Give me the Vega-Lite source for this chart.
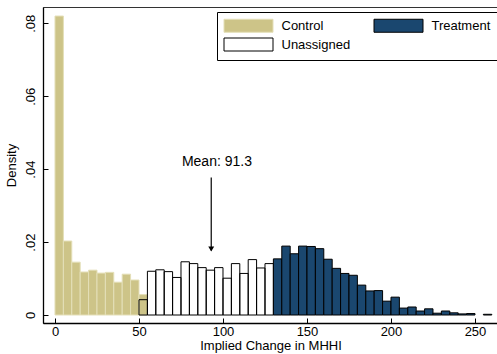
{
  "$schema": "https://vega.github.io/schema/vega-lite/v6.json",
  "width": 455,
  "height": 316,
  "autosize": {"type": "none"},
  "padding": {"left": 43, "top": 7, "right": 0, "bottom": 31},
  "background": "white",
  "config": {
    "font": "Liberation Sans",
    "view": {"stroke": "#333", "strokeWidth": 1},
    "axis": {"domainColor": "#000", "domainWidth": 1.3, "tickColor": "#000", "tickWidth": 1, "labelColor": "#000", "titleColor": "#000", "labelFontSize": 13, "titleFontSize": 13, "titleFontWeight": "normal", "grid": false, "labelFont": "Liberation Sans", "titleFont": "Liberation Sans"}
  },
  "datasets": {
    "bars": [
      {"group": "Control", "start": 0, "end": 5, "density": 0.082},
      {"group": "Control", "start": 5, "end": 10, "density": 0.0203},
      {"group": "Control", "start": 10, "end": 15, "density": 0.0145},
      {"group": "Control", "start": 15, "end": 20, "density": 0.0118},
      {"group": "Control", "start": 20, "end": 25, "density": 0.0123},
      {"group": "Control", "start": 25, "end": 30, "density": 0.0115},
      {"group": "Control", "start": 30, "end": 35, "density": 0.0117},
      {"group": "Control", "start": 35, "end": 40, "density": 0.009},
      {"group": "Control", "start": 40, "end": 45, "density": 0.0112},
      {"group": "Control", "start": 45, "end": 50, "density": 0.0096},
      {"group": "Control", "start": 50, "end": 55, "density": 0.0056},
      {"group": "Unassigned", "start": 50, "end": 55, "density": 0.0042},
      {"group": "Unassigned", "start": 55, "end": 60, "density": 0.012},
      {"group": "Unassigned", "start": 60, "end": 65, "density": 0.0124},
      {"group": "Unassigned", "start": 65, "end": 70, "density": 0.0119},
      {"group": "Unassigned", "start": 70, "end": 75, "density": 0.0103},
      {"group": "Unassigned", "start": 75, "end": 80, "density": 0.0146},
      {"group": "Unassigned", "start": 80, "end": 85, "density": 0.0141},
      {"group": "Unassigned", "start": 85, "end": 90, "density": 0.013},
      {"group": "Unassigned", "start": 90, "end": 95, "density": 0.0123},
      {"group": "Unassigned", "start": 95, "end": 100, "density": 0.013},
      {"group": "Unassigned", "start": 100, "end": 105, "density": 0.0101},
      {"group": "Unassigned", "start": 105, "end": 110, "density": 0.0141},
      {"group": "Unassigned", "start": 110, "end": 115, "density": 0.0114},
      {"group": "Unassigned", "start": 115, "end": 120, "density": 0.0152},
      {"group": "Unassigned", "start": 120, "end": 125, "density": 0.0129},
      {"group": "Unassigned", "start": 125, "end": 130, "density": 0.0141},
      {"group": "Treatment", "start": 130, "end": 135, "density": 0.0154},
      {"group": "Treatment", "start": 135, "end": 140, "density": 0.0189},
      {"group": "Treatment", "start": 140, "end": 145, "density": 0.0168},
      {"group": "Treatment", "start": 145, "end": 150, "density": 0.0189},
      {"group": "Treatment", "start": 150, "end": 155, "density": 0.0188},
      {"group": "Treatment", "start": 155, "end": 160, "density": 0.0182},
      {"group": "Treatment", "start": 160, "end": 165, "density": 0.0153},
      {"group": "Treatment", "start": 165, "end": 170, "density": 0.0128},
      {"group": "Treatment", "start": 170, "end": 175, "density": 0.0114},
      {"group": "Treatment", "start": 175, "end": 180, "density": 0.0109},
      {"group": "Treatment", "start": 180, "end": 185, "density": 0.0082},
      {"group": "Treatment", "start": 185, "end": 190, "density": 0.0066},
      {"group": "Treatment", "start": 190, "end": 195, "density": 0.0067},
      {"group": "Treatment", "start": 195, "end": 200, "density": 0.0038},
      {"group": "Treatment", "start": 200, "end": 205, "density": 0.0049},
      {"group": "Treatment", "start": 205, "end": 210, "density": 0.0019},
      {"group": "Treatment", "start": 210, "end": 215, "density": 0.0022},
      {"group": "Treatment", "start": 215, "end": 220, "density": 0.0011},
      {"group": "Treatment", "start": 220, "end": 225, "density": 0.0017},
      {"group": "Treatment", "start": 225, "end": 230, "density": 0.0005},
      {"group": "Treatment", "start": 230, "end": 235, "density": 0.0011},
      {"group": "Treatment", "start": 235, "end": 240, "density": 0.0006},
      {"group": "Treatment", "start": 240, "end": 245, "density": 0.0003},
      {"group": "Treatment", "start": 245, "end": 250, "density": 0.0004},
      {"group": "Treatment", "start": 255, "end": 260, "density": 0.0002}
    ],
    "mean": [{"x": 96.4, "y": 0.0419, "label": "Mean: 91.3"}],
    "arrow": [{"x": 93, "y": 0.0377, "y2": 0.0177, "head": 0.0181}]
  },
  "layer": [
    {
      "data": {"name": "bars"},
      "mark": {"type": "bar", "strokeWidth": 1},
      "encoding": {
        "x": {"field": "start", "type": "quantitative", "title": "Implied Change in MHHI",
          "scale": {"domain": [-7.14, 263.7], "nice": false, "zero": false},
          "axis": {"values": [0, 50, 100, 150, 200, 250], "tickSize": -5, "labelPadding": 7, "titlePadding": 1}},
        "x2": {"field": "end"},
        "y": {"field": "density", "type": "quantitative", "title": "Density",
          "scale": {"domain": [-0.00219, 0.08448], "nice": false, "zero": false},
          "axis": {"values": [0, 0.02, 0.04, 0.06, 0.08], "tickSize": -5, "labelAngle": -90, "labelAlign": "center", "labelBaseline": "alphabetic", "labelPadding": 14, "titlePadding": 6,
            "labelExpr": "datum.value == 0 ? '0' : replace(format(datum.value, '.2f'), '0.', '.')"}},
        "y2": {"datum": 0},
        "fill": {"field": "group", "type": "nominal",
          "scale": {"domain": ["Control", "Treatment", "Unassigned"], "range": ["#cdc488", "#1a476f", "transparent"]},
          "legend": {"title": null, "orient": "none", "legendX": 174, "legendY": 5, "columns": 2, "direction": "horizontal",
            "symbolType": "M-1,-1L6.54,-1L6.54,1L-1,1Z", "symbolSize": 169, "symbolStrokeWidth": 1,
            "labelFontSize": 13, "labelFont": "Liberation Sans", "labelColor": "#000", "labelOffset": 44, "columnPadding": 21, "rowPadding": 1, "padding": 6.5,
            "strokeColor": "#000", "fillColor": "#fff"}},
        "stroke": {"field": "group", "type": "nominal",
          "scale": {"domain": ["Control", "Treatment", "Unassigned"], "range": ["#e4dfb8", "#000000", "#000000"]},
          "legend": {"title": null, "orient": "none", "legendX": 174, "legendY": 5, "columns": 2, "direction": "horizontal",
            "symbolType": "M-1,-1L6.54,-1L6.54,1L-1,1Z", "symbolSize": 169, "symbolStrokeWidth": 1,
            "labelFontSize": 13, "labelFont": "Liberation Sans", "labelColor": "#000", "labelOffset": 44, "columnPadding": 21, "rowPadding": 1, "padding": 6.5,
            "strokeColor": "#000", "fillColor": "#fff"}}
      }
    },
    {
      "data": {"name": "arrow"},
      "mark": {"type": "rule", "color": "#000", "strokeWidth": 1.2},
      "encoding": {
        "x": {"field": "x", "type": "quantitative", "title": "Implied Change in MHHI"},
        "y": {"field": "y", "type": "quantitative", "title": "Density"},
        "y2": {"field": "y2"}
      }
    },
    {
      "data": {"name": "arrow"},
      "mark": {"type": "point", "shape": "triangle-down", "filled": true, "color": "#000", "size": 35, "opacity": 1},
      "encoding": {
        "x": {"field": "x", "type": "quantitative", "title": "Implied Change in MHHI"},
        "y": {"field": "head", "type": "quantitative", "title": "Density"}
      }
    },
    {
      "data": {"name": "mean"},
      "mark": {"type": "text", "fontSize": 14, "align": "center", "baseline": "middle", "font": "Liberation Sans", "color": "#000"},
      "encoding": {
        "x": {"field": "x", "type": "quantitative", "title": "Implied Change in MHHI"},
        "y": {"field": "y", "type": "quantitative", "title": "Density"},
        "text": {"field": "label"}
      }
    }
  ]
}
